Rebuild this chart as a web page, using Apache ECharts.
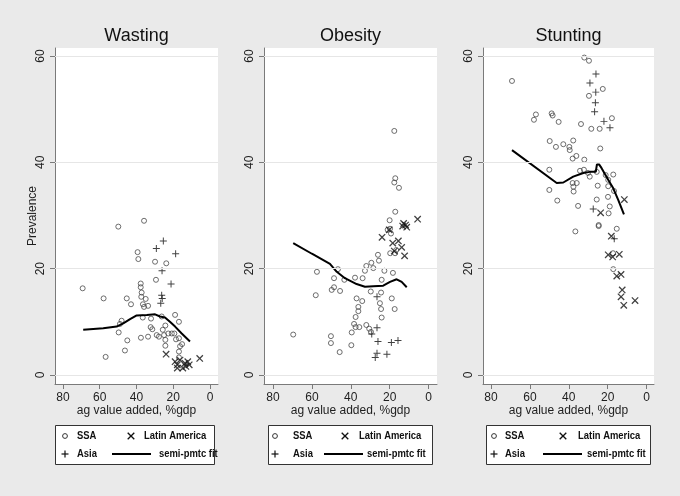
<!DOCTYPE html>
<html>
<head>
<meta charset="utf-8">
<script src="https://cdn.jsdelivr.net/npm/echarts@6/dist/echarts.min.js"></script>
<style>
html,body{margin:0;padding:0;background:#EAEAEA;}
#c{width:680px;height:496px;}
</style>
</head>
<body>
<div id="c"></div>
<script>
// ---------------- data ----------------
const panelTitles = ['Wasting', 'Obesity', 'Stunting'];
const xTicks = [0, 20, 40, 60, 80];
const yTicks = [0, 20, 40, 60];
const xAxisTitle = 'ag value added, %gdp';
const yAxisTitle = 'Prevalence';
const legendLabels = ['SSA', 'Latin America', 'Asia', 'semi-pmtc fit'];

const wastingSSA = [[49.9,27.9],[35.9,29.0],[39.4,23.1],[39.0,21.8],[29.9,21.3],[23.8,21.0],[29.4,17.9],[69.3,16.3],[57.9,14.4],[45.3,14.4],[43.0,13.3],[37.7,17.2],[37.7,16.5],[37.4,14.7],[35.0,14.3],[36.5,13.3],[35.9,12.8],[33.7,13.0],[48.1,10.2],[49.0,9.6],[49.7,8.0],[45.0,6.5],[46.3,4.6],[56.8,3.4],[37.6,7.0],[33.7,7.2],[36.6,10.8],[32.1,10.6],[32.3,9.0],[31.4,8.6],[29.0,7.5],[27.8,7.2],[25.7,8.5],[24.3,9.3],[25.0,7.5],[24.3,6.6],[24.3,5.5],[22.7,7.8],[20.8,7.8],[19.0,11.3],[16.9,10.0],[19.4,7.8],[18.5,6.7],[16.9,6.9],[16.3,5.4],[16.9,4.4],[16.9,3.3],[15.2,5.8],[26.3,11.0],[37.2,15.5]];
const wastingAsia = [[25.4,25.2],[29.2,23.8],[18.7,22.8],[26.1,19.6],[21.2,17.1],[26.3,15.0],[26.0,14.4],[26.8,13.5]];
const wastingLatam = [[23.9,3.9],[5.6,3.1],[19.0,2.5],[17.8,1.9],[17.8,1.3],[13.6,2.2],[12.1,2.5],[13.1,1.6],[11.3,1.9],[16.3,2.8],[14.8,1.3]];
const wastingFit = [[69.0,8.5],[58.1,8.8],[50.8,9.1],[47.2,9.7],[43.5,10.5],[39.9,11.2],[34.4,11.3],[29.9,11.4],[27.2,11.0],[24.5,10.8],[21.8,10.0],[19.0,9.1],[15.4,7.8],[10.9,6.3]];

const obesitySSA = [[17.6,45.9],[17.1,37.0],[17.6,36.2],[15.2,35.2],[17.1,30.7],[20.0,29.1],[19.8,27.5],[19.3,26.6],[21.0,27.3],[19.7,22.9],[17.2,22.9],[16.6,23.5],[26.0,22.6],[25.5,21.5],[22.7,19.6],[18.3,19.2],[32.0,20.5],[29.4,21.1],[28.4,20.1],[32.7,19.6],[33.9,18.2],[37.8,18.3],[24.1,17.9],[46.6,19.9],[57.4,19.4],[48.6,18.2],[43.3,17.9],[48.6,16.5],[49.8,16.0],[45.5,15.8],[58.0,15.0],[29.7,15.7],[24.4,15.5],[37.0,14.4],[34.1,13.9],[36.1,12.8],[36.1,12.0],[25.0,13.5],[24.4,12.4],[18.9,14.4],[17.4,12.4],[24.1,10.8],[37.5,10.9],[38.3,9.6],[37.5,9.0],[35.6,9.0],[39.5,8.0],[32.0,9.4],[30.5,8.7],[29.6,8.1],[69.6,7.6],[50.2,7.3],[50.2,6.0],[39.7,5.6],[45.7,4.3]];
const obesityAsia = [[26.5,14.7],[26.5,8.9],[29.2,7.7],[26.0,6.3],[19.1,6.1],[15.7,6.5],[26.5,4.1],[21.4,3.9],[27.4,3.3]];
const obesityLatam = [[5.6,29.3],[12.8,28.5],[11.8,28.2],[13.3,28.0],[11.2,27.8],[20.2,27.3],[23.9,25.9],[15.5,25.2],[18.4,24.8],[13.8,24.0],[17.6,23.3],[12.3,22.4]];
const obesityFit = [[69.6,24.8],[60.0,22.8],[50.7,20.9],[47.2,19.4],[43.0,18.2],[37.0,17.1],[32.7,16.6],[28.4,16.7],[23.3,16.8],[19.8,17.5],[16.4,18.0],[13.8,17.5],[11.2,16.5]];

const stuntingSSA = [[69.2,55.3],[32.0,59.7],[29.6,59.1],[22.5,53.8],[29.6,52.5],[56.9,49.0],[57.9,48.0],[48.8,49.2],[48.3,48.8],[45.2,47.6],[33.7,47.2],[17.8,48.3],[28.4,46.3],[24.1,46.3],[49.8,44.0],[37.7,44.1],[42.8,43.4],[46.6,42.9],[39.7,42.9],[39.5,42.3],[23.8,42.6],[36.1,41.2],[38.0,40.7],[32.0,40.5],[50.0,38.6],[34.2,38.4],[32.2,38.6],[30.1,38.0],[29.2,37.3],[25.6,38.2],[21.0,37.6],[17.1,37.7],[19.7,36.7],[25.1,35.6],[19.7,35.5],[38.0,36.1],[35.9,36.1],[37.6,35.4],[37.5,34.5],[50.0,34.8],[16.7,34.6],[19.8,33.5],[25.6,33.0],[45.9,32.8],[35.2,31.8],[18.9,31.7],[19.5,30.4],[24.6,28.2],[24.6,28.0],[36.6,27.0],[15.3,27.5],[17.1,19.9],[17.2,22.9]];
const stuntingAsia = [[26.0,56.6],[29.1,54.9],[26.1,53.2],[26.3,51.2],[26.7,49.5],[21.9,47.7],[18.8,46.5],[27.4,31.2],[16.6,25.6]];
const stuntingLatam = [[11.4,33.0],[23.6,30.5],[18.1,26.1],[19.7,22.6],[17.4,22.2],[14.0,22.7],[15.3,18.6],[13.1,18.9],[12.5,16.0],[13.1,14.7],[11.7,13.1],[5.9,14.0]];
const stuntingFit = [[69.2,42.3],[46.2,36.1],[42.8,36.2],[37.7,37.3],[32.5,38.0],[29.1,38.2],[26.1,38.2],[25.5,39.6],[24.4,39.6],[23.1,38.9],[19.7,36.7],[17.1,35.1],[14.5,32.9],[11.6,30.2]];

// ---------------- layout / style ----------------
const FONT = '"Liberation Sans", Arial, sans-serif';
const panels = [
  {ssa: wastingSSA, asia: wastingAsia, latam: wastingLatam, fit: wastingFit,
   grid: {left: 55, top: 48, width: 163, height: 336}, xr: [-4.35, 84.35],
   lg: {x: 55, y: 425, w: 159, h: 39, c: 10, t1: 22, xm: 76, t2: 89, l1: 57, l2: 96, t4: 104}},
  {ssa: obesitySSA, asia: obesityAsia, latam: obesityLatam, fit: obesityFit,
   grid: {left: 264, top: 48, width: 173, height: 336}, xr: [-4.37, 84.63],
   lg: {x: 268, y: 425, w: 164, h: 39, c: 7, t1: 25, xm: 77, t2: 91, l1: 56, l2: 95, t4: 99}},
  {ssa: stuntingSSA, asia: stuntingAsia, latam: stuntingLatam, fit: stuntingFit,
   grid: {left: 483, top: 48, width: 171, height: 336}, xr: [-3.86, 84.12],
   lg: {x: 486, y: 425, w: 164, h: 39, c: 8, t1: 19, xm: 77, t2: 92, l1: 57, l2: 96, t4: 101}}
];
const yRange = [-1.7, 61.5];
const axisColor = '#7a7a7a';
const textColor = '#1e1e1e';
const plusPath = 'path://M-0.14,-1L0.14,-1L0.14,-0.14L1,-0.14L1,0.14L0.14,0.14L0.14,1L-0.14,1L-0.14,0.14L-1,0.14L-1,-0.14L-0.14,-0.14Z';

const grids = [], xAxes = [], yAxes = [], series = [], graphics = [];
panels.forEach((p, i) => {
  grids.push(Object.assign({show: true, backgroundColor: '#ffffff', borderWidth: 0, containLabel: false, outerBoundsMode: 'none'}, p.grid));
  xAxes.push({
    gridIndex: i, type: 'value', inverse: true, min: p.xr[0], max: p.xr[1],
    axisLine: {show: true, onZero: false, lineStyle: {color: axisColor, width: 1}},
    axisTick: {show: true, length: 5, customValues: xTicks, lineStyle: {color: axisColor}},
    axisLabel: {show: true, customValues: xTicks, margin: 8, fontSize: 12, color: textColor, fontFamily: FONT},
    splitLine: {show: false},
    name: xAxisTitle, nameLocation: 'middle', nameGap: 21, nameMoveOverlap: false,
    nameTextStyle: {fontSize: 12, color: textColor, fontFamily: FONT}
  });
  yAxes.push({
    gridIndex: i, type: 'value', min: yRange[0], max: yRange[1],
    axisLine: {show: true, onZero: false, lineStyle: {color: axisColor, width: 1}},
    axisTick: {show: true, length: 5, customValues: yTicks, lineStyle: {color: axisColor}},
    axisLabel: {show: true, customValues: yTicks, rotate: 90, margin: 8, fontSize: 12, color: textColor, fontFamily: FONT},
    splitLine: {show: false},
    name: i === 0 ? yAxisTitle : '', nameLocation: 'middle', nameRotate: 90, nameGap: 16, nameMoveOverlap: false,
    nameTextStyle: {fontSize: 12, color: textColor, fontFamily: FONT}
  });
  series.push({
    name: legendLabels[0], type: 'scatter', xAxisIndex: i, yAxisIndex: i, data: p.ssa,
    symbol: 'circle', symbolSize: 5, z: 3,
    itemStyle: {color: 'rgba(0,0,0,0)', borderColor: '#4a4a4a', borderWidth: 1}
  });
  series.push({
    name: legendLabels[2], type: 'scatter', xAxisIndex: i, yAxisIndex: i, data: p.asia,
    symbol: plusPath, symbolSize: 7, z: 3,
    itemStyle: {color: '#111'}
  });
  series.push({
    name: legendLabels[1], type: 'scatter', xAxisIndex: i, yAxisIndex: i, data: p.latam,
    symbol: plusPath, symbolSize: 9, symbolRotate: 45, z: 3,
    itemStyle: {color: '#111'}
  });
  series.push({
    name: legendLabels[3], type: 'line', xAxisIndex: i, yAxisIndex: i, data: p.fit,
    showSymbol: false, symbol: 'none', z: 4,
    lineStyle: {color: '#000', width: 2},
    markLine: {silent: true, symbol: ['none', 'none'], label: {show: false}, animation: false,
      lineStyle: {color: '#e6e6e6', width: 1, type: 'solid'}, emphasis: {disabled: true},
      data: yTicks.map(v => ({yAxis: v}))}
  });
  // title
  graphics.push({type: 'text', x: p.grid.left + p.grid.width / 2, y: 36.5, silent: true,
    style: {text: panelTitles[i], fontSize: 18, fontFamily: FONT, fill: '#111', align: 'center', verticalAlign: 'middle'}});
  // legend box
  const L = p.lg;
  const r1 = L.y + 11, r2 = L.y + 29;
  const ts = {fontSize: 11.5, fontWeight: 'bold', fontFamily: FONT, fill: '#111', align: 'left', verticalAlign: 'middle'};
  const txt = (x, y, s) => ({type: 'text', x: x, y: y, scaleX: 0.82, silent: true, style: Object.assign({text: s}, ts)});
  graphics.push({type: 'rect', shape: {x: L.x + 0.5, y: L.y + 0.5, width: L.w, height: L.h}, silent: true,
    style: {fill: '#fff', stroke: '#333', lineWidth: 1}});
  graphics.push({type: 'circle', shape: {cx: L.x + L.c, cy: r1, r: 2.4}, silent: true, style: {fill: 'none', stroke: '#333', lineWidth: 1}});
  graphics.push(txt(L.x + L.t1, r1, legendLabels[0]));
  graphics.push({type: 'polyline', shape: {points: [[L.x + L.xm - 3.3, r1 - 3.3], [L.x + L.xm + 3.3, r1 + 3.3]]}, silent: true, style: {stroke: '#111', lineWidth: 1.3}});
  graphics.push({type: 'polyline', shape: {points: [[L.x + L.xm - 3.3, r1 + 3.3], [L.x + L.xm + 3.3, r1 - 3.3]]}, silent: true, style: {stroke: '#111', lineWidth: 1.3}});
  graphics.push(txt(L.x + L.t2, r1, legendLabels[1]));
  graphics.push({type: 'polyline', shape: {points: [[L.x + L.c - 3.5, r2], [L.x + L.c + 3.5, r2]]}, silent: true, style: {stroke: '#111', lineWidth: 1.2}});
  graphics.push({type: 'polyline', shape: {points: [[L.x + L.c, r2 - 3.5], [L.x + L.c, r2 + 3.5]]}, silent: true, style: {stroke: '#111', lineWidth: 1.2}});
  graphics.push(txt(L.x + L.t1, r2, legendLabels[2]));
  graphics.push({type: 'polyline', shape: {points: [[L.x + L.l1, r2], [L.x + L.l2, r2]]}, silent: true, style: {stroke: '#000', lineWidth: 2}});
  graphics.push(txt(L.x + L.t4, r2, legendLabels[3]));
});

const chart = echarts.init(document.getElementById('c'), null, {renderer: 'canvas'});
chart.setOption({
  backgroundColor: '#EAEAEA',
  animation: false,
  grid: grids,
  xAxis: xAxes,
  yAxis: yAxes,
  series: series,
  graphic: {elements: graphics}
});
</script>
</body>
</html>
